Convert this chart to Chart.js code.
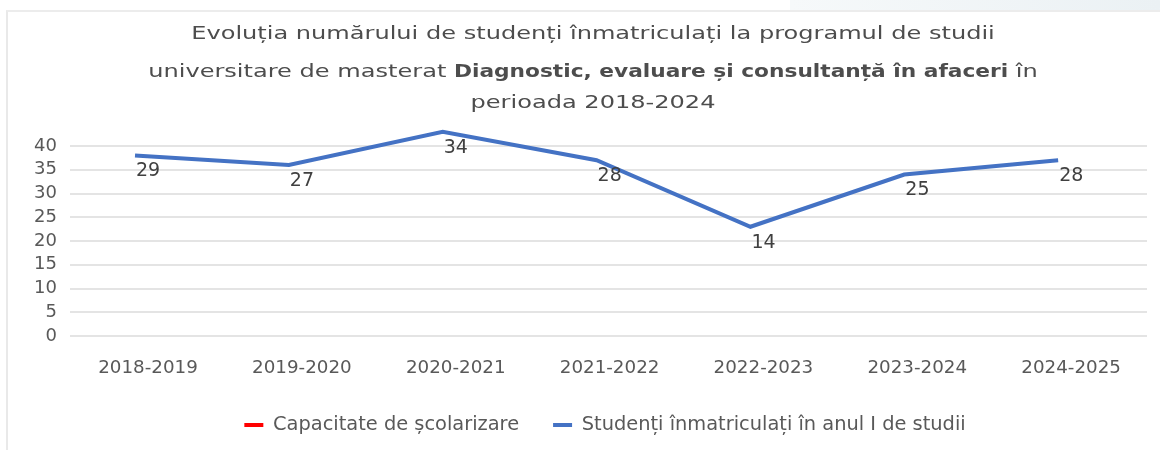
<!DOCTYPE html>
<html>
<head>
<meta charset="utf-8">
<script src="https://cdn.jsdelivr.net/npm/chart.js@4.4.1/dist/chart.umd.min.js"></script>
<style>
  html, body { margin: 0; padding: 0; background: #ffffff; }
  #page { position: relative; width: 1160px; height: 450px; overflow: hidden; background: #ffffff; }
  #strip { position: absolute; left: 790px; top: 0; width: 370px; height: 10px;
           background: linear-gradient(90deg, #f6f9fa, #ebf1f4); }
  #frame { position: absolute; left: 6px; top: 10px; width: 1160px; height: 450px;
           border-left: 2px solid #e9e9e9; border-top: 2px solid #ececec; box-sizing: border-box; }
  #wrap { position: absolute; left: 0; top: 0; width: 1160px; height: 450px; }
</style>
</head>
<body>
<div id="page">
  <div id="strip"></div>
  <div id="frame"></div>
  <div id="wrap"><canvas id="chart"></canvas></div>
</div>
<script>
// ---- data ----
const categories = ['2018-2019', '2019-2020', '2020-2021', '2021-2022', '2022-2023', '2023-2024', '2024-2025'];
// line positions as read against the value axis
const studentLine = [38, 36, 43, 37, 23, 34, 37];
// data labels as printed next to the points
const studentLabels = [29, 27, 34, 28, 14, 25, 28];
// "Capacitate de școlarizare" appears only in the legend (no visible line)
const capacity = [];
const seriesNames = ['Capacitate de școlarizare', 'Studenți înmatriculați în anul I de studii'];
const titleLine1 = [{ text: 'Evoluția numărului de studenți înmatriculați la programul de studii', bold: false }];
const titleLine2 = [
  { text: 'universitare de masterat ', bold: false },
  { text: 'Diagnostic, evaluare și consultanță în afaceri', bold: true },
  { text: ' în', bold: false }
];
const titleLine3 = [{ text: 'perioada 2018-2024', bold: false }];
const yMin = 0, yMax = 40, yStep = 5;

// ---- styles ----
const FONT = '"DejaVu Sans", sans-serif';
const TEXT = '#595959';

const mixedTitle = {
  id: 'mixedTitle',
  afterDraw(chart) {
    const ctx = chart.ctx;
    const lines = [titleLine1, titleLine2, titleLine3];
    const baselines = [39, 77, 108];
    const size = 17.5, sxRegular = 1.375, sxBold = 1.24, cx = 593;
    ctx.save();
    ctx.fillStyle = '#4d4d4d';
    ctx.textBaseline = 'alphabetic';
    ctx.textAlign = 'left';
    lines.forEach((segs, li) => {
      let total = 0;
      const widths = segs.map(s => {
        ctx.font = (s.bold ? 'bold ' : '') + size + 'px ' + FONT;
        const w = ctx.measureText(s.text).width * (s.bold ? sxBold : sxRegular);
        total += w;
        return w;
      });
      let x = cx - total / 2;
      segs.forEach((s, i) => {
        ctx.save();
        ctx.font = (s.bold ? 'bold ' : '') + size + 'px ' + FONT;
        ctx.translate(x, baselines[li]);
        ctx.scale(s.bold ? sxBold : sxRegular, 1);
        ctx.fillText(s.text, 0, 0);
        ctx.restore();
        x += widths[i];
      });
    });
    ctx.restore();
  }
};

const pointLabels = {
  id: 'pointLabels',
  afterDatasetsDraw(chart) {
    const ctx = chart.ctx;
    const meta = chart.getDatasetMeta(1);
    ctx.save();
    ctx.font = '19px ' + FONT;
    ctx.fillStyle = '#404040';
    ctx.textAlign = 'left';
    ctx.textBaseline = 'middle';
    meta.data.forEach((pt, i) => {
      ctx.fillText(String(studentLabels[i]), pt.x + 1, pt.y + 16);
    });
    ctx.restore();
  }
};

// shift the legend box so that it is centred like in the reference
const legendShift = {
  id: 'legendShift',
  afterLayout(chart) {
    if (chart.legend) chart.legend.left = 63;
  }
};

new Chart(document.getElementById('chart'), {
  type: 'line',
  data: {
    datasets: [
      {
        label: seriesNames[0],
        data: capacity,
        borderColor: '#ff0000',
        backgroundColor: '#ff0000',
        borderWidth: 4,
        pointRadius: 0
      },
      {
        label: seriesNames[1],
        data: studentLine.map((v, i) => ({ x: i, y: v })),
        borderColor: '#4472c4',
        backgroundColor: '#4472c4',
        borderWidth: 4,
        pointRadius: 0,
        tension: 0,
        clip: false
      }
    ]
  },
  options: {
    responsive: true,
    maintainAspectRatio: false,
    animation: false,
    devicePixelRatio: 1,
    layout: { padding: { top: 146, left: 0, right: 13, bottom: 5.3 } },
    plugins: {
      title: { display: false },
      tooltip: { enabled: false },
      legend: {
        position: 'bottom',
        align: 'center',
        labels: {
          font: { family: FONT, size: 19.4 },
          color: TEXT,
          boxWidth: 19,
          boxHeight: 4,
          padding: 34,
          generateLabels: (chart) =>
            Chart.defaults.plugins.legend.labels.generateLabels(chart).map(l => ({
              ...l, lineWidth: 0, fillStyle: l.strokeStyle
            }))
        }
      }
    },
    scales: {
      x: {
        type: 'linear',
        min: -0.4225,
        max: categories.length - 1 + 0.5775,
        grid: { display: false, drawTicks: false },
        border: { display: false },
        afterBuildTicks: (scale) => { scale.ticks = categories.map((_, i) => ({ value: i })); },
        afterFit: (scale) => { scale.height = 45.3; },
        ticks: {
          callback: (v) => categories[v] ?? '',
          font: { family: FONT, size: 18.3 },
          color: TEXT,
          padding: 21,
          labelOffset: 13,
          maxRotation: 0,
          autoSkip: false
        }
      },
      y: {
        min: yMin,
        max: yMax,
        grid: { color: '#e4e4e4', lineWidth: 2, drawTicks: false },
        border: { display: false },
        afterFit: (scale) => { scale.width = 70; },
        ticks: {
          stepSize: yStep,
          autoSkip: false,
          font: { family: FONT, size: 18 },
          color: TEXT,
          padding: 13
        }
      }
    }
  },
  plugins: [mixedTitle, pointLabels, legendShift]
});
</script>
</body>
</html>
